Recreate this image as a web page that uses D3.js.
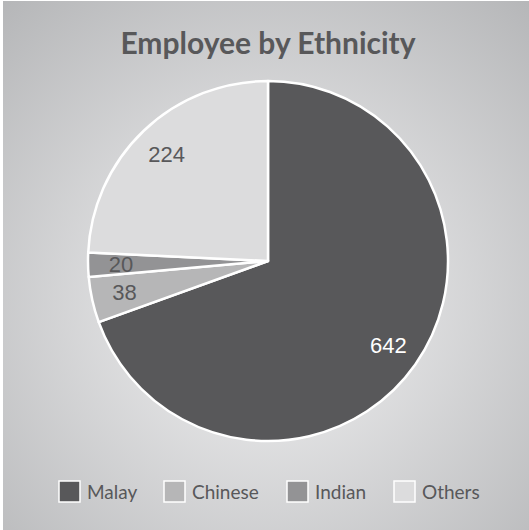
<!DOCTYPE html>
<html><head><meta charset="utf-8">
<script src="https://cdn.jsdelivr.net/npm/d3@7"></script>
<style>html,body{margin:0;padding:0;background:#fff;}svg{display:block;}</style>
</head><body>
<script>
const categories = ["Malay", "Chinese", "Indian", "Others"];
const values = [642, 38, 20, 224];
const colors = ["#58585a", "#b6b6b7", "#939395", "#dcdcdd"];
const labelColors = ["#ffffff", "#58585a", "#58585a", "#58585a"];
const title = "Employee by Ethnicity";

const W = 529, H = 530;
const svg = d3.select("body").append("svg").attr("width", W).attr("height", H);
const defs = svg.append("defs");
const grad = defs.append("radialGradient").attr("id", "bg")
  .attr("gradientUnits", "userSpaceOnUse")
  .attr("cx", 268).attr("cy", 300).attr("r", 420);
grad.append("stop").attr("offset", "0%").attr("stop-color", "#f4f4f5");
grad.append("stop").attr("offset", "100%").attr("stop-color", "#b2b3b5");
svg.append("rect").attr("width", W).attr("height", H).attr("fill", "#ffffff");
svg.append("rect").attr("x", 3).attr("y", 1).attr("width", W - 3).attr("height", H - 1).attr("fill", "url(#bg)");

svg.append("text").attr("x", 268).attr("y", 54).attr("text-anchor", "middle")
  .attr("font-family", "Lato, 'Open Sans', sans-serif").attr("font-weight", "bold")
  .attr("font-size", 30).attr("fill", "#58585a").text(title);

const cx = 268, cy = 261, R = 180;
const data = categories.map((c, i) => ({cat: c, value: values[i], i}));
const pie = d3.pie().value(d => d.value).sort(null);
const arc = d3.arc().innerRadius(0).outerRadius(R);
const labelArc = d3.arc().innerRadius(147).outerRadius(147);
const g = svg.append("g").attr("transform", `translate(${cx},${cy})`);
const arcs = pie(data);
g.selectAll("path").data(arcs).enter().append("path")
  .attr("d", arc).attr("fill", d => colors[d.data.i])
  .attr("stroke", "#ffffff").attr("stroke-width", 2.5).attr("stroke-linejoin", "round");
g.selectAll("text").data(arcs).enter().append("text")
  .attr("transform", d => `translate(${labelArc.centroid(d)})`)
  .attr("text-anchor", "middle").attr("dy", "0.35em")
  .attr("font-family", "'Liberation Sans', Arial, sans-serif").attr("font-size", 22)
  .attr("fill", d => labelColors[d.data.i]).text(d => d.data.value);

const legendX = [59, 164, 287, 394];
const lg = svg.append("g");
categories.forEach((c, i) => {
  const it = lg.append("g").attr("transform", `translate(${legendX[i]},481)`);
  it.append("rect").attr("width", 21).attr("height", 21).attr("fill", colors[i])
    .attr("stroke", "#ffffff").attr("stroke-width", 1.5);
  it.append("text").attr("x", 28).attr("y", 18)
    .attr("font-family", "Lato, 'Open Sans', sans-serif").attr("font-size", 19)
    .attr("fill", "#58585a").text(c);
});
</script>
</body></html>
